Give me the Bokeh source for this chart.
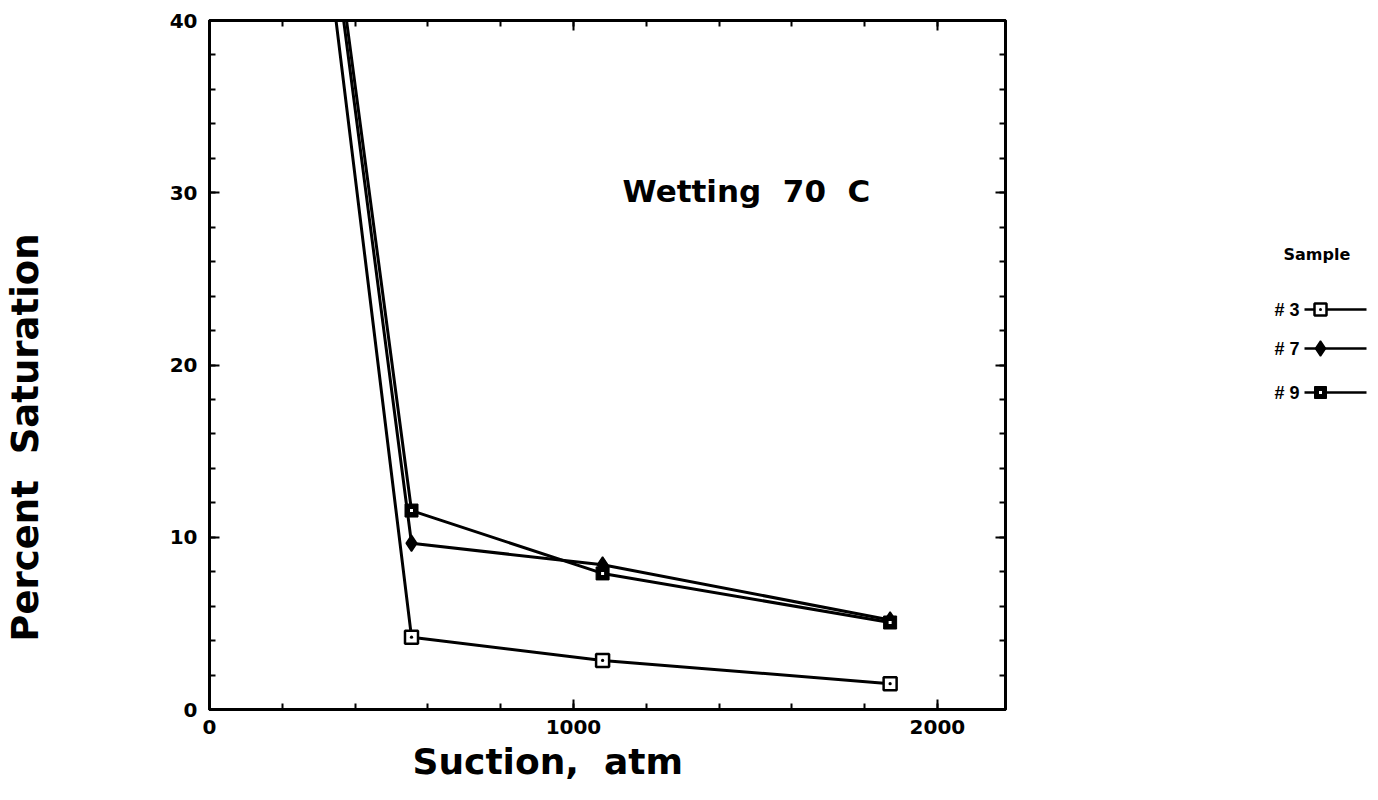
import math
from bokeh.plotting import figure
from bokeh.models import Range1d, LinearAxis, SingleIntervalTicker, Label, Title
from bokeh.layouts import row
from bokeh.embed import file_html
from bokeh.resources import INLINE
from bokeh.core.properties import value

# ---------------- data ----------------
suction = [0, 555, 1080, 1870]
sat_3 = [100, 4.2, 2.85, 1.5]
sat_7 = [100, 9.65, 8.4, 5.2]
sat_9 = [100, 11.55, 7.9, 5.05]
series_labels = ["# 3", "# 7", "# 9"]
legend_title = "Sample"
NB = "\u00a0"
x_label = "Suction," + NB + NB + "atm"
y_label = "Percent" + NB + NB + "Saturation"
annotation = "Wetting" + NB + NB + "70" + NB + NB + "C"

FONT = "DejaVu Sans"
TOP, BOTTOM = 20, 81          # shared borders so that the three panels line up
FRAME_TOP, FRAME_BOTTOM = 20, 709

# ---------------- y-axis title panel ----------------
lab = figure(width=60, height=790, x_range=Range1d(0, 60),
             y_range=Range1d(FRAME_BOTTOM, FRAME_TOP),
             output_backend="svg", toolbar_location=None,
             min_border_left=0, min_border_right=0, min_border_top=TOP,
             min_border_bottom=BOTTOM, x_axis_location=None, y_axis_location=None)
lab.outline_line_color = None
lab.xgrid.visible = False
lab.ygrid.visible = False
lab.text(x=[25], y=[437], text=[y_label], angle=math.pi / 2,
         text_font=value(FONT), text_font_style="bold", text_font_size="37px",
         text_align="center", text_baseline="middle", text_color="black")

# ---------------- main plot ----------------
p = figure(width=958, height=790, x_range=Range1d(0, 2187), y_range=Range1d(0, 40),
           output_backend="svg", toolbar_location=None,
           min_border_left=149, min_border_right=13, min_border_top=TOP,
           min_border_bottom=BOTTOM, x_axis_location=None, y_axis_location=None)
p.xgrid.visible = False
p.ygrid.visible = False
p.outline_line_color = "black"
p.outline_line_width = 3
p.background_fill_color = "white"
p.border_fill_color = "white"


def style_axis(ax, labels=True):
    ax.axis_line_width = 3
    ax.axis_line_color = "black"
    ax.major_tick_in = 10
    ax.major_tick_out = 0
    ax.minor_tick_in = 6
    ax.minor_tick_out = 0
    ax.major_tick_line_width = 2
    ax.minor_tick_line_width = 2
    ax.major_tick_line_color = "black"
    ax.minor_tick_line_color = "black"
    if labels:
        ax.major_label_text_font = FONT
        ax.major_label_text_font_style = "bold"
        ax.major_label_text_font_size = "20px"
        ax.major_label_text_color = "black"
    else:
        ax.major_label_text_font_size = "0px"
        ax.major_label_text_color = None
        ax.major_label_standoff = 0


xb = LinearAxis(ticker=SingleIntervalTicker(interval=1000, num_minor_ticks=5))
style_axis(xb)
xb.major_label_standoff = 10
p.add_layout(xb, "below")

xt = LinearAxis(ticker=SingleIntervalTicker(interval=1000, num_minor_ticks=5))
style_axis(xt, labels=False)
p.add_layout(xt, "above")

yl = LinearAxis(ticker=SingleIntervalTicker(interval=10, num_minor_ticks=5))
style_axis(yl)
yl.major_label_standoff = 12
p.add_layout(yl, "left")

yr = LinearAxis(ticker=SingleIntervalTicker(interval=10, num_minor_ticks=5))
style_axis(yr, labels=False)
p.add_layout(yr, "right")

# x-axis title (sits left of centre in the reference)
p.add_layout(Title(text=x_label, align="left", offset=203, standoff=4,
                   text_font=FONT, text_font_style="bold", text_font_size="36px",
                   text_color="black"), "below")

# series lines
for ys in (sat_3, sat_7, sat_9):
    p.line(suction, ys, line_color="black", line_width=3)

# markers
p.scatter(suction, sat_3, marker="square_dot", size=13, fill_color="white",
          line_color="black", line_width=2.5)
p.scatter(suction, sat_7, marker="diamond", size=16, fill_color="black",
          line_color="black", line_width=1.5)
p.scatter(suction, sat_9, marker="square", size=13, fill_color="black",
          line_color="black", line_width=1)
p.scatter(suction, sat_9, marker="square", size=3, fill_color="white",
          line_color=None)

# annotation inside the plot
p.add_layout(Label(x=1135, y=30.1, text=annotation, text_font=FONT,
                   text_font_style="bold", text_font_size="31px",
                   text_align="left", text_baseline="middle", text_color="black"))

# ---------------- legend panel ----------------
leg = figure(width=352, height=790, x_range=Range1d(1018, 1370),
             y_range=Range1d(FRAME_BOTTOM, FRAME_TOP),
             output_backend="svg", toolbar_location=None,
             min_border_left=0, min_border_right=0, min_border_top=TOP,
             min_border_bottom=BOTTOM, x_axis_location=None, y_axis_location=None)
leg.outline_line_color = None
leg.xgrid.visible = False
leg.ygrid.visible = False

leg.text(x=[1283], y=[254], text=[legend_title], text_font=value(FONT),
         text_font_style="bold", text_font_size="16px", text_align="left",
         text_baseline="middle", text_color="black")

item_y = [309, 348, 392]
leg.text(x=[1299] * 3, y=item_y, text=series_labels, text_font=value("Liberation Sans"),
         text_font_style="bold", text_font_size="18px", text_align="right",
         text_baseline="middle", text_color="black")
for yy in item_y:
    leg.line([1304, 1366], [yy, yy], line_color="black", line_width=2.5)
leg.scatter([1320], [item_y[0]], marker="square_dot", size=12, fill_color="white",
            line_color="black", line_width=2.5)
leg.scatter([1320], [item_y[1]], marker="diamond", size=15, fill_color="black",
            line_color="black", line_width=1.5)
leg.scatter([1320], [item_y[2]], marker="square", size=12, fill_color="black",
            line_color="black", line_width=1)
leg.scatter([1320], [item_y[2]], marker="square", size=3, fill_color="white",
            line_color=None)

layout = row(lab, p, leg)
open("out.html", "w").write(file_html(layout, INLINE))
